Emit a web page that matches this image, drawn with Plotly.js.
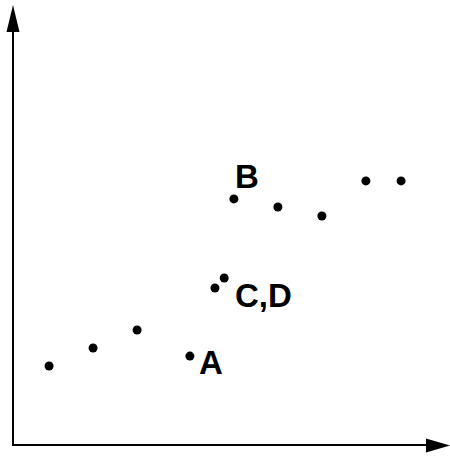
<!DOCTYPE html>
<html>
<head>
<meta charset="utf-8">
<script src="https://cdn.plot.ly/plotly-3.0.1.min.js"></script>
<style>html,body{margin:0;padding:0;background:#fff;}#chart{width:450px;height:456px;}</style>
</head>
<body>
<div id="chart"></div>
<script>
// Data
var xValues = [0.82, 1.82, 2.82, 4.02, 4.59, 4.80, 5.02, 6.02, 7.02, 8.02, 8.82];
var yValues = [4.39, 5.39, 6.39, 4.94, 8.72, 9.28, 13.67, 13.22, 12.72, 14.67, 14.67];
var labelTexts = ["A", "B", "C,D"];
var labelPointIndex = [3, 6, 5];

var labelOffsets = [[21, -6], [13, 22], [39, -18]]; // pixel shifts (x right, y up)

var annotations = labelTexts.map(function(t, i) {
  var k = labelPointIndex[i];
  return {
    x: xValues[k], y: yValues[k], xref: 'x', yref: 'y',
    text: '<b>' + t + '</b>', showarrow: false,
    xshift: labelOffsets[i][0], yshift: labelOffsets[i][1],
    font: {family: 'Liberation Sans, Arial, sans-serif', size: 33, color: '#000'}
  };
});

function px(x) { return x / 450; }
function py(y) { return 1 - y / 456; }

var shapes = [
  {type: 'line', xref: 'paper', yref: 'paper', x0: px(13), y0: py(446), x1: px(13), y1: py(30), line: {color: '#000', width: 2}},
  {type: 'line', xref: 'paper', yref: 'paper', x0: px(12), y0: py(445), x1: px(428), y1: py(445), line: {color: '#000', width: 2}},
  {type: 'path', xref: 'paper', yref: 'paper',
   path: 'M ' + px(13) + ',' + py(5) + ' L ' + px(6.5) + ',' + py(32) + ' L ' + px(19.5) + ',' + py(32) + ' Z',
   fillcolor: '#000', line: {width: 0}},
  {type: 'path', xref: 'paper', yref: 'paper',
   path: 'M ' + px(450) + ',' + py(445.5) + ' L ' + px(426) + ',' + py(438.5) + ' L ' + px(426) + ',' + py(452.5) + ' Z',
   fillcolor: '#000', line: {width: 0}}
];

var trace = {
  x: xValues, y: yValues, mode: 'markers', type: 'scatter',
  marker: {color: '#000', size: 9}, hoverinfo: 'skip'
};

var layout = {
  width: 450, height: 456,
  margin: {l: 0, r: 0, t: 0, b: 0},
  paper_bgcolor: '#fff', plot_bgcolor: '#fff',
  showlegend: false,
  xaxis: {range: [-13/44, 437/44], visible: false, fixedrange: true},
  yaxis: {range: [-11/18, 445/18], visible: false, fixedrange: true},
  shapes: shapes,
  annotations: annotations
};

Plotly.newPlot('chart', [trace], layout, {staticPlot: true, displayModeBar: false});
</script>
</body>
</html>
